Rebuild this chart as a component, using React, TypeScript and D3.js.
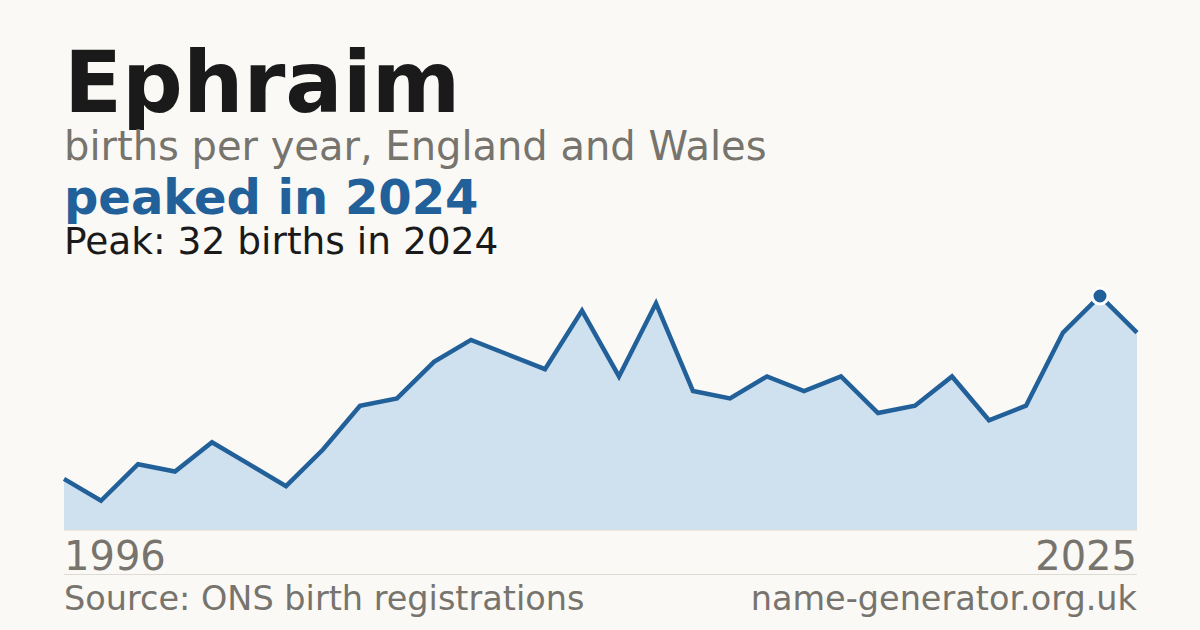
import React, { useEffect, useRef } from 'react';
import * as d3 from 'd3';

const years = d3.range(1996, 2026);
const births = [7, 4, 9, 8, 12, 9, 6, 11, 17, 18, 23, 26, 24, 22, 30, 21, 31, 19, 18, 21, 19, 21, 16, 17, 21, 15, 17, 27, 32, 27];
const peakYear = 2024;
const peakValue = 32;

const W = 1200;
const H = 630;
const FONT = '"DejaVu Sans", sans-serif';

export default function App() {
  const svgRef = useRef<SVGSVGElement>(null);

  useEffect(() => {
    if (!svgRef.current) return;
    const svg = d3.select(svgRef.current);
    svg.selectAll('*').remove();

    svg.append('rect').attr('width', W).attr('height', H).attr('fill', '#faf9f5');

    const x = d3.scaleLinear().domain([1996, 2025]).range([64, 1137]);
    const y = d3.scaleLinear().domain([0, peakValue]).range([530, 296]);

    const data = years.map((yr, i) => ({ yr, v: births[i] }));

    const area = d3.area<{ yr: number; v: number }>()
      .x(d => x(d.yr))
      .y0(y(0))
      .y1(d => y(d.v));

    const line = d3.line<{ yr: number; v: number }>()
      .x(d => x(d.yr))
      .y(d => y(d.v));

    svg.append('path').attr('d', area(data)).attr('fill', '#cfe0ef');

    svg.append('line')
      .attr('x1', 64).attr('x2', 1137)
      .attr('y1', y(0)).attr('y2', y(0))
      .attr('stroke', '#dcdad4').attr('stroke-width', 1);

    svg.append('path')
      .attr('d', line(data))
      .attr('fill', 'none')
      .attr('stroke', '#22609a')
      .attr('stroke-width', 4.5)
      .attr('stroke-linejoin', 'miter');

    svg.append('circle')
      .attr('cx', x(peakYear)).attr('cy', y(peakValue))
      .attr('r', 8)
      .attr('fill', '#22609a')
      .attr('stroke', '#ffffff')
      .attr('stroke-width', 3);

    const text = (tx: number, ty: number, s: string, size: number, fill: string, weight = 'normal', anchor = 'start') =>
      svg.append('text')
        .attr('x', tx).attr('y', ty)
        .attr('font-family', FONT)
        .attr('font-size', size)
        .attr('font-weight', weight)
        .attr('fill', fill)
        .attr('text-anchor', anchor)
        .text(s);

    text(64, 112, 'Ephraim', 85, '#1a1a1a', 'bold');
    text(64, 160, 'births per year, England and Wales', 40, '#77736d');
    text(64, 214, `peaked in ${peakYear}`, 48, '#22609a', 'bold');
    text(64, 254, `Peak: ${peakValue} births in ${peakYear}`, 37.5, '#1a1a1a');

    text(64, 570, String(years[0]), 40, '#77736d');
    text(1137, 570, String(years[years.length - 1]), 40, '#77736d', 'normal', 'end');

    svg.append('line')
      .attr('x1', 64).attr('x2', 1137)
      .attr('y1', 574.5).attr('y2', 574.5)
      .attr('stroke', '#dedbd5').attr('stroke-width', 1);

    text(64, 610, 'Source: ONS birth registrations', 33.5, '#77736d');
    text(1137, 610, 'name-generator.org.uk', 33.5, '#77736d', 'normal', 'end');
  }, []);

  return (
    <svg ref={svgRef} width={W} height={H} style={{ display: 'block', position: 'absolute', left: 0, top: 0 }} />
  );
}
